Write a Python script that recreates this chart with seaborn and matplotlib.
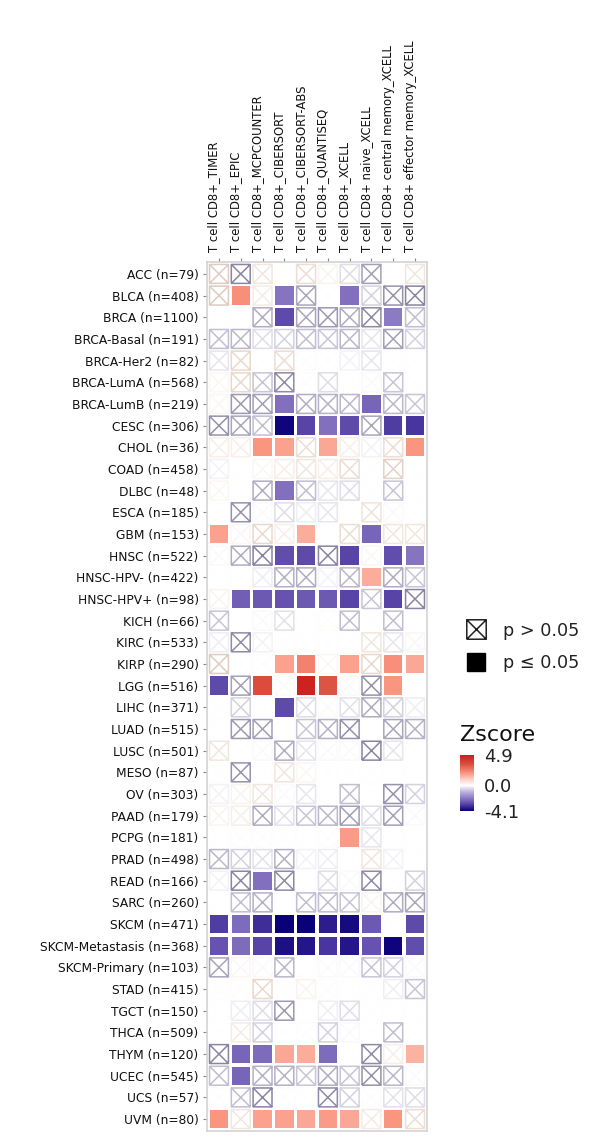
import matplotlib
matplotlib.use("Agg")
import matplotlib.pyplot as plt
import pandas as pd
import seaborn as sns
from matplotlib.cm import ScalarMappable
from matplotlib.colors import LinearSegmentedColormap, Normalize
from matplotlib.lines import Line2D
from matplotlib.path import Path
from matplotlib.transforms import ScaledTranslation

METHODS = [
    "T cell CD8+_TIMER",
    "T cell CD8+_EPIC",
    "T cell CD8+_MCPCOUNTER",
    "T cell CD8+_CIBERSORT",
    "T cell CD8+_CIBERSORT-ABS",
    "T cell CD8+_QUANTISEQ",
    "T cell CD8+_XCELL",
    "T cell CD8+ naive_XCELL",
    "T cell CD8+ central memory_XCELL",
    "T cell CD8+ effector memory_XCELL",
]
CANCERS = [
    "ACC (n=79)", "BLCA (n=408)", "BRCA (n=1100)", "BRCA-Basal (n=191)",
    "BRCA-Her2 (n=82)", "BRCA-LumA (n=568)", "BRCA-LumB (n=219)", "CESC (n=306)",
    "CHOL (n=36)", "COAD (n=458)", "DLBC (n=48)", "ESCA (n=185)", "GBM (n=153)",
    "HNSC (n=522)", "HNSC-HPV- (n=422)", "HNSC-HPV+ (n=98)", "KICH (n=66)",
    "KIRC (n=533)", "KIRP (n=290)", "LGG (n=516)", "LIHC (n=371)", "LUAD (n=515)",
    "LUSC (n=501)", "MESO (n=87)", "OV (n=303)", "PAAD (n=179)", "PCPG (n=181)",
    "PRAD (n=498)", "READ (n=166)", "SARC (n=260)", "SKCM (n=471)",
    "SKCM-Metastasis (n=368)", "SKCM-Primary (n=103)", "STAD (n=415)",
    "TGCT (n=150)", "THCA (n=509)", "THYM (n=120)", "UCEC (n=545)", "UCS (n=57)",
    "UVM (n=80)",
]
ZSCORES = [
    [0.7, -1.5, 0.3, 0, 0.4, 0.15, -0.3, -1.1, 0, 0.3],
    [0.7, 2.1, 0.25, -2.1, -1.0, 0, -2.2, -0.4, -1.3, -1.5],
    [0, 0, -0.9, -2.9, -1.0, -1.2, -0.9, -1.4, -2.0, -0.6],
    [-0.6, -0.7, -0.3, -0.4, -0.6, -0.5, -0.7, -0.2, -1.1, -0.4],
    [-0.2, 0.5, 0, 0.4, 0.02, 0, -0.1, -0.2, 0, 0],
    [0.1, 0.5, -0.5, -1.4, 0.03, -0.3, 0, -0.03, -0.5, 0],
    [0.1, -1.2, -1.1, -2.2, -0.9, -0.8, -0.7, -2.4, -0.7, -0.5],
    [-1.3, -1.0, -0.6, -4.0, -3.0, -2.2, -2.9, -1.0, -3.1, -3.2],
    [0.2, 0.2, 2.0, 1.8, 0.4, 1.7, 0.2, -0.1, 0.4, 2.0],
    [-0.1, 0, 0.1, 0.2, 0.3, 0.2, 0.4, 0, 0.6, 0],
    [0.1, 0, -0.9, -2.2, -0.6, -0.2, -0.3, 0, -0.5, 0],
    [0, -1.3, -0.05, -0.3, -0.15, -0.2, 0, 0.35, -0.05, 0],
    [1.8, 0.1, 0.5, 0.2, 1.6, 0, 0.4, -2.4, 0.3, 0.3],
    [0.05, -0.9, -1.6, -2.8, -2.9, -1.5, -3.0, 0.1, -2.8, -2.1],
    [0, 0, -0.15, -0.8, -0.9, -0.1, -0.7, 1.6, -0.9, -0.5],
    [0.15, -2.5, -2.6, -2.7, -2.6, -2.6, -3.0, -0.5, -3.0, -1.5],
    [-0.5, 0, -0.03, -0.25, 0, 0.02, -0.6, 0, -0.6, 0],
    [-0.15, -1.4, -0.1, 0, 0, 0, 0, 0.3, -0.2, 0.1],
    [0.7, 0, 0.03, 1.8, 2.4, 0.1, 1.8, 0.5, 2.1, 1.7],
    [-2.9, -1.1, 3.5, 0.05, 4.7, 3.3, 0.05, -1.3, 2.0, 0],
    [0, -0.4, 0, -2.9, -0.3, 0.05, -0.25, -0.9, -0.4, -0.15],
    [0, -1.2, -1.1, 0, -0.5, -0.8, -1.3, 0, -1.0, -0.8],
    [0.3, 0, 0.05, -0.9, -0.2, -0.05, -0.03, -1.5, -0.2, 0],
    [0, -1.3, 0, 0.3, 0.1, 0, 0, 0, 0, 0],
    [-0.1, 0.15, 0.3, -0.03, -0.2, 0, -0.6, 0, -1.3, -0.4],
    [0.15, 0.2, -0.9, -0.25, -0.5, -0.7, -1.1, -0.3, -1.1, -0.03],
    [0, 0.02, 0.02, 0, 0, 0.03, 1.9, -0.2, 0, 0],
    [-0.7, -0.4, -0.25, -0.8, -0.1, -0.15, 0, 0.3, -0.1, 0],
    [-0.1, -1.5, -2.2, -1.4, 0, -0.3, -0.05, -1.4, 0, -0.4],
    [0, -0.6, -0.8, 0, -0.6, -0.6, -0.5, 0.15, -0.9, -1.0],
    [-3.1, -2.3, -3.3, -4.1, -4.1, -3.6, -3.9, -2.6, 0, -2.9],
    [-2.7, -2.3, -3.0, -3.8, -3.7, -3.2, -3.7, -2.7, -4.0, -2.8],
    [-1.0, 0.1, -0.03, -0.7, 0, -0.03, -0.05, -0.5, -0.4, 0.05],
    [0.03, 0.02, 0.5, 0.01, 0.15, 0.03, 0, -0.02, -0.15, -0.5],
    [0, -0.15, -0.3, -1.2, 0, -0.15, -0.3, 0, 0, 0],
    [0, 0.25, -0.4, 0, 0.02, -0.4, -0.03, 0, -0.6, 0],
    [-1.5, -2.4, -2.3, 1.7, 1.6, -2.3, 0, -1.4, 0.2, 1.5],
    [-0.6, -2.4, -0.8, -0.8, -0.5, -0.9, -0.5, -1.3, -0.7, -0.05],
    [0.03, -0.6, -1.5, 0.02, 0, -1.4, -0.4, 0.02, -0.25, -0.3],
    [2.0, 0.3, 1.8, 1.8, 1.7, 1.9, 1.7, 0.25, 2.0, 0.4],
]
# one string per cancer, 1 = p <= 0.05
SIGNIFICANT = [
    "0000000000", "0101001000", "0001000010", "0000000000", "0000000000",
    "0000000000", "0001000100", "0001111011", "0011010001", "0000000000",
    "0001000000", "0000000000", "1000100100", "0001101011", "0000000100",
    "0111111010", "0000000000", "0000000000", "0001101011", "1010110010",
    "0001000000", "0000000000", "0000000000", "0000000000", "0000000000",
    "0000000000", "0000001000", "0000000000", "0010000000", "0000000000",
    "1111111101", "1111111111", "0000000000", "0000000000", "0000000000",
    "0000000000", "0111110001", "0100000000", "0000000000", "1011111010",
]
ZMIN, ZMAX = -4.1, 4.9


def build_cmap(name, nodes):
    return LinearSegmentedColormap.from_list(
        name, [((z - ZMIN) / (ZMAX - ZMIN), c) for z, c in nodes]
    )


fill_cmap = build_cmap("zscore", [
    (-4.1, "#0a0078"), (-3.6, "#2c1c8c"), (-3.0, "#5844a6"), (-2.2, "#8270bf"), (-1.0, "#bdb3de"),
    (0.0, "#ffffff"), (1.0, "#fdd0c4"), (2.0, "#fa9580"), (3.4, "#dc5040"), (4.9, "#cc1c1c"),
])
# the crossed boxes look greyer than the filled ones
edge_cmap = build_cmap("zscore_edge", [
    (-4.1, "#40386f"), (-1.5, "#8a86a2"), (-0.5, "#c8c6d6"), (0.0, "#ffffff"),
    (0.5, "#e8d8cc"), (1.0, "#d2b8b0"), (4.9, "#b05040"),
])
norm = Normalize(ZMIN, ZMAX)

# square with both diagonals, for the p > 0.05 cells
CROSSED_BOX = Path(
    [(-1, -1), (1, -1), (1, 1), (-1, 1), (-1, -1), (-1, -1), (1, 1), (-1, 1), (1, -1)],
    [Path.MOVETO, Path.LINETO, Path.LINETO, Path.LINETO, Path.LINETO,
     Path.MOVETO, Path.LINETO, Path.MOVETO, Path.LINETO],
)

rows = []
for cancer, values, flags in zip(CANCERS, ZSCORES, SIGNIFICANT):
    for method, z, flag in zip(METHODS, values, flags):
        rows.append({"method": method, "cancer": cancer, "zscore": z, "sig": flag == "1"})
df = pd.DataFrame(rows)
df["method"] = pd.Categorical(df["method"], categories=METHODS)
df["cancer"] = pd.Categorical(df["cancer"], categories=CANCERS)

sns.set_theme(style="white")

fig = plt.figure(figsize=(6, 11.43), dpi=100)
W, H = 600, 1143
ax = fig.add_axes([207 / W, 1 - 1131 / H, 220 / W, 869 / H])

sns.scatterplot(
    data=df[~df["sig"]], x="method", y="cancer", hue="zscore",
    hue_norm=norm, palette=edge_cmap, marker=CROSSED_BOX, s=185, legend=False, ax=ax,
)
boxes = ax.collections[-1]
boxes.set_edgecolors(boxes.get_facecolors())
boxes.set_facecolors("none")
boxes.set_linewidth(1.1)

sns.scatterplot(
    data=df[df["sig"]], x="method", y="cancer", hue="zscore",
    hue_norm=norm, palette=fill_cmap, marker="s", s=175, linewidth=0, legend=False, ax=ax,
)

ax.set_xlim(-0.55, 9.55)
ax.set_ylim(39.55, -0.55)
ax.set_xlabel("")
ax.set_ylabel("")
ax.xaxis.tick_top()
ax.tick_params(axis="x", top=True, bottom=False, length=3, width=0.8, color="#888888",
               rotation=90, labelsize=8.4, pad=4.5, labelcolor="#111111")
ax.tick_params(axis="y", left=True, length=3, width=0.8, color="#888888",
               labelsize=8.8, pad=3, labelcolor="#111111")
# column labels sit a little left of their ticks in the original
label_shift = ScaledTranslation(-5 / 100, 0, fig.dpi_scale_trans)
for label in ax.get_xticklabels():
    label.set_transform(label.get_transform() + label_shift)
for spine in ax.spines.values():
    spine.set_color("#d4d2d4")
    spine.set_linewidth(1.2)

handles = [
    Line2D([], [], linestyle="none", marker=CROSSED_BOX, markersize=14, markeredgewidth=1.1,
           markeredgecolor="#222222", markerfacecolor="none", label="p > 0.05"),
    Line2D([], [], linestyle="none", marker="s", markersize=13, color="black", label="p ≤ 0.05"),
]
fig.legend(
    handles=handles, loc="center left", bbox_to_anchor=(442 / W, 1 - 647 / H),
    frameon=False, fontsize=12.7, labelspacing=0.85, handletextpad=0.55,
    labelcolor="#222222",
)

fig.text(460 / W, 1 - 735 / H, "Zscore", fontsize=16, color="#111111", va="center", ha="left")

cax = fig.add_axes([460 / W, 1 - 811 / H, 14 / W, 56 / H])
cbar = fig.colorbar(ScalarMappable(norm=norm, cmap=fill_cmap), cax=cax)
cbar.set_ticks([ZMAX, 0, ZMIN], labels=["4.9", "0.0", "-4.1"])
cbar.ax.tick_params(length=0, labelsize=13, pad=7, labelcolor="#222222")
cbar.outline.set_visible(False)

fig.savefig("out.png", dpi=100)
